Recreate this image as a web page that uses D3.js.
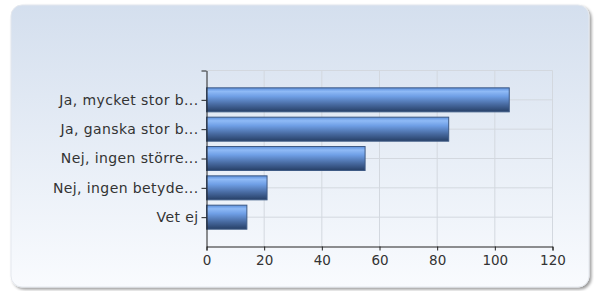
<!DOCTYPE html>
<html>
<head>
<meta charset="utf-8">
<script src="https://cdn.jsdelivr.net/npm/d3@7"></script>
<style>
  body { margin: 0; background: #fff; }
  svg { display: block; font-family: "DejaVu Sans", Verdana, sans-serif; }
</style>
</head>
<body>
<div id="chart"></div>
<script>
const categories = ["Ja, mycket stor b...", "Ja, ganska stor b...", "Nej, ingen större...", "Nej, ingen betyde...", "Vet ej"];
const values = [105, 84, 55, 21, 14];
const xTicks = [0, 20, 40, 60, 80, 100, 120];

const W = 594, H = 291;
const margin = { top: 70.5, right: 41.5, bottom: 44.5, left: 206.5 };
const width = W - margin.left - margin.right;
const height = H - margin.top - margin.bottom;

const svg = d3.select("#chart").append("svg")
    .attr("width", W)
    .attr("height", H);

const defs = svg.append("defs");

// panel background gradient
const bg = defs.append("linearGradient").attr("id", "bg")
    .attr("x1", 0).attr("y1", 0).attr("x2", 0).attr("y2", 1);
bg.append("stop").attr("offset", "0%").attr("stop-color", "#d4dfee");
bg.append("stop").attr("offset", "100%").attr("stop-color", "#f9fbfe");

// bar gradient
const bar = defs.append("linearGradient").attr("id", "bar")
    .attr("x1", 0).attr("y1", 0).attr("x2", 0).attr("y2", 1);
[["0%", "#5b8fdc"], ["15%", "#8fbaf6"], ["35%", "#6f9fe6"], ["70%", "#47699f"], ["100%", "#263f66"]]
    .forEach(([o, c]) => bar.append("stop").attr("offset", o).attr("stop-color", c));

const shadow = defs.append("filter").attr("id", "shadow")
    .attr("x", "-5%").attr("y", "-5%").attr("width", "110%").attr("height", "115%");
shadow.append("feGaussianBlur").attr("in", "SourceAlpha").attr("stdDeviation", 1.5);
shadow.append("feOffset").attr("dx", 2).attr("dy", 2).attr("result", "b");
shadow.append("feComponentTransfer").append("feFuncA").attr("type", "linear").attr("slope", 0.4);
const merge = shadow.append("feMerge");
merge.append("feMergeNode");
merge.append("feMergeNode").attr("in", "SourceGraphic");

svg.append("rect")
    .attr("x", 11).attr("y", 5)
    .attr("width", 578).attr("height", 282)
    .attr("rx", 11).attr("ry", 11)
    .attr("fill", "url(#bg)")
    .attr("stroke", "#e4e8ee")
    .attr("filter", "url(#shadow)");

const g = svg.append("g")
    .attr("transform", `translate(${margin.left},${margin.top})`);

const x = d3.scaleLinear().domain([0, 120]).range([0, width]);
const y = d3.scalePoint().domain(["", ...categories, " "]).range([0, height]);

// grid
g.selectAll(".vgrid").data(xTicks.slice(1))
    .join("line")
    .attr("x1", d => x(d)).attr("x2", d => x(d))
    .attr("y1", 0).attr("y2", height)
    .attr("stroke", "#d3d8df");
g.selectAll(".hgrid").data(["", ...categories])
    .join("line")
    .attr("x1", 0).attr("x2", width)
    .attr("y1", d => y(d)).attr("y2", d => y(d))
    .attr("stroke", "#d3d8df");

// bars
const bh = 24;
g.selectAll(".bar").data(categories)
    .join("rect")
    .attr("x", 0)
    .attr("y", d => y(d) - bh / 2)
    .attr("width", (d, i) => x(values[i]))
    .attr("height", bh)
    .attr("fill", "url(#bar)")
    .attr("stroke", "#3e5a85")
    .attr("stroke-width", 1);

// axes
const xAxis = g.append("g")
    .attr("transform", `translate(0,${height})`)
    .call(d3.axisBottom(x).tickValues(xTicks).tickSize(4).tickPadding(5));
const yAxis = g.append("g")
    .call(d3.axisLeft(y).tickSize(5).tickPadding(3).tickSizeOuter(0));

[xAxis, yAxis].forEach(a => {
    a.select(".domain").attr("stroke", "#222");
    a.selectAll(".tick line").attr("stroke", "#222");
    a.selectAll("text").attr("fill", "#333")
        .style("font-family", "'DejaVu Sans', Verdana, sans-serif");
});
xAxis.selectAll("text").style("font-size", "13.5px");
yAxis.selectAll("text").style("font-size", "14px").style("letter-spacing", "0.4px");
yAxis.selectAll(".tick").filter(d => d === " ").select("line").remove();
</script>
</body>
</html>
